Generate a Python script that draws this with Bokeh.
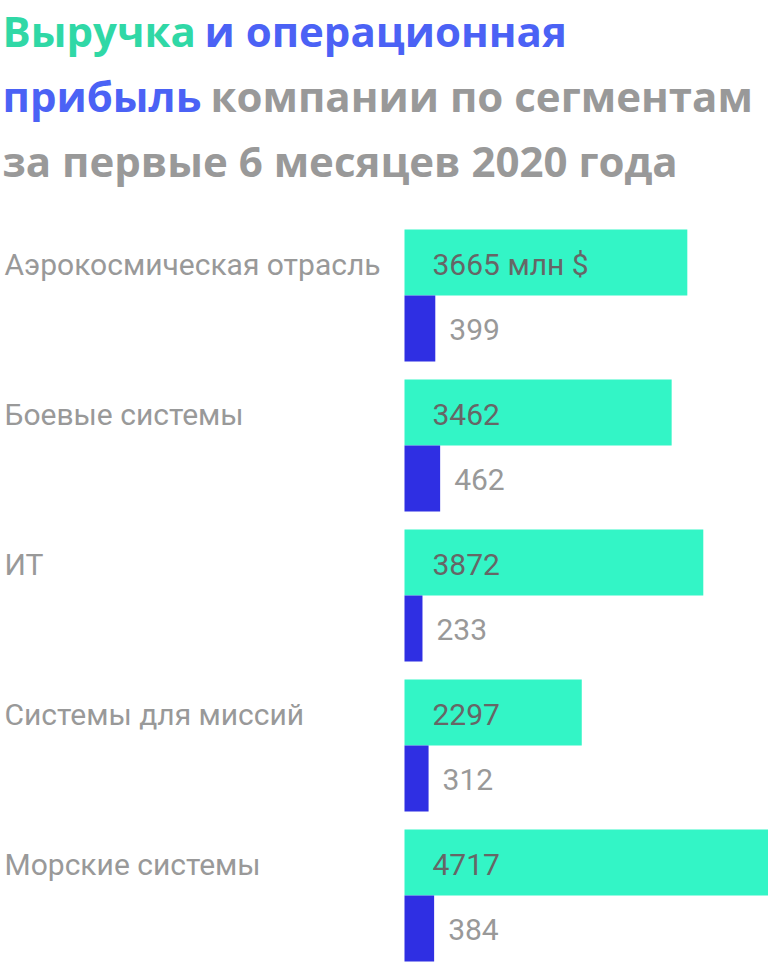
from bokeh.plotting import figure
from bokeh.models import Range1d, ColumnDataSource
from bokeh.core.properties import value
from bokeh.embed import file_html
from bokeh.resources import INLINE

# ---- data ----
categories = ["Аэрокосмическая отрасль", "Боевые системы", "ИТ", "Системы для миссий", "Морские системы"]
revenue = [3665, 3462, 3872, 2297, 4717]
op_profit = [399, 462, 233, 312, 384]
unit = "млн $"
title_lines = [
    [("Выручка", "green"), ("и операционная", "blue")],
    [("прибыль", "blue"), ("компании по сегментам", "gray")],
    [("за первые 6 месяцев 2020 года", "gray")],
]

# ---- styling ----
W, H = 768, 964
GREEN = "#33f5c6"
BLUE = "#2f2fe3"
T_COLORS = {"green": "#30d8a6", "blue": "#4b62f5", "gray": "#999999"}
GRAY = "#999999"
DARK = "#666666"
FONT = "Roboto"
TFONT = "Open Sans"
LBL_SIZE = 30
T_SIZE = 42
BASE_FIX = 0.4   # baseline correction (em) for svg text placement

ROW = 150.0                       # pixels per row
px_per_unit = 364 / max(revenue)  # pixels per $ mln
left_px = 404
x0 = -left_px / px_per_unit
x1 = (W - left_px) / px_per_unit

bar_h = 66 / ROW
y_top = -(229 / ROW) - bar_h
y_range = Range1d(start=y_top + H / ROW, end=y_top)

p = figure(width=W, height=H, x_range=Range1d(x0, x1), y_range=y_range,
           output_backend="svg", toolbar_location=None, min_border=0)
p.axis.visible = False
p.grid.visible = False
p.outline_line_color = None
p.background_fill_color = "white"
p.border_fill_color = "white"

lfix = BASE_FIX * LBL_SIZE
idx = list(range(len(categories)))
src = ColumnDataSource(dict(
    y=idx,
    rev=revenue,
    prof=op_profit,
    cat=categories,
    rev_lbl=[f"{v} {unit}" if i == 0 else str(v) for i, v in enumerate(revenue)],
    prof_lbl=[str(v) for v in op_profit],
    zero=[0] * len(idx),
    xs=[x0 + 4 / px_per_unit] * len(idx),
    y_rev_base=[i - bar_h + (47 - lfix) / ROW for i in idx],
    y_prof_base=[i + (46 - lfix) / ROW for i in idx],
    rev_top=[i - bar_h for i in idx],
    prof_bot=[i + bar_h for i in idx],
))

p.quad(left="zero", right="rev", top="rev_top", bottom="y", source=src,
       fill_color=GREEN, line_color=None)
p.quad(left="zero", right="prof", top="y", bottom="prof_bot", source=src,
       fill_color=BLUE, line_color=None)

p.text(x="zero", y="y_rev_base", text="rev_lbl", source=src, x_offset=28,
       text_font=value(FONT), text_font_size=f"{LBL_SIZE}px", text_color=DARK,
       text_baseline="alphabetic", text_align="left")
p.text(x="prof", y="y_prof_base", text="prof_lbl", source=src, x_offset=14,
       text_font=value(FONT), text_font_size=f"{LBL_SIZE}px", text_color=GRAY,
       text_baseline="alphabetic", text_align="left")
p.text(x="xs", y="y_rev_base", text="cat", source=src,
       text_font=value(FONT), text_font_size=f"{LBL_SIZE}px", text_color=GRAY,
       text_baseline="alphabetic", text_align="left")

# ---- title (three lines, multi-coloured) ----
tfix = BASE_FIX * T_SIZE
line_base_px = [47, 112, 177]
part_start_px = [[2, 204], [2, 210], [2]]
tx, ty, tt, tc = [], [], [], []
for li, parts in enumerate(title_lines):
    for pi, (txt, col) in enumerate(parts):
        tx.append(x0 + part_start_px[li][pi] / px_per_unit)
        ty.append(y_top + (line_base_px[li] - tfix) / ROW)
        tt.append(txt)
        tc.append(T_COLORS[col])
tsrc = ColumnDataSource(dict(x=tx, y=ty, text=tt, color=tc))
p.text(x="x", y="y", text="text", text_color="color", source=tsrc,
       text_font=value(TFONT), text_font_size=f"{T_SIZE}px", text_font_style="bold",
       text_baseline="alphabetic", text_align="left")

open("out.html", "w").write(file_html(p, INLINE))
